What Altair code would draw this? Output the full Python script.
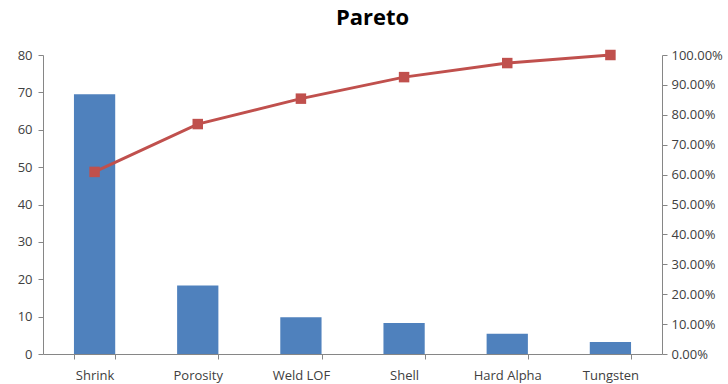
import altair as alt
import pandas as pd

categories = ["Shrink", "Porosity", "Weld LOF", "Shell", "Hard Alpha", "Tungsten"]
counts = [69.5, 18.3, 9.8, 8.3, 5.4, 3.2]
cumulative = [0.609, 0.769, 0.854, 0.926, 0.973, 1.0]

df = pd.DataFrame({"cat": categories, "count": counts, "cum": cumulative})

FONT = "Open Sans"
AX = "#868686"
LBL = "#404040"
FS = 13

x = alt.X("cat:N", sort=categories, title=None,
          scale=alt.Scale(paddingInner=0.6, paddingOuter=0.3),
          axis=alt.Axis(labelAngle=0, tickBand="extent", domainColor=AX, tickColor=AX,
                        labelColor=LBL, labelFont=FONT, labelFontSize=FS, tickSize=5,
                        labelPadding=10, domainWidth=1, grid=False))

bars = alt.Chart(df).mark_bar(color="#4F81BD").encode(
    x=x,
    y=alt.Y("count:Q", title=None,
            scale=alt.Scale(domain=[0, 80]),
            axis=alt.Axis(values=list(range(0, 81, 10)), grid=False, domainColor=AX,
                          tickColor=AX, labelColor=LBL, labelFont=FONT, labelFontSize=FS,
                          tickSize=5, labelPadding=6)),
)

line = alt.Chart(df).mark_line(color="#C0504D", strokeWidth=3,
                               point=alt.OverlayMarkDef(shape="square", size=110,
                                                        filled=True, color="#C0504D", opacity=1)).encode(
    x=x,
    y=alt.Y("cum:Q", title=None,
            scale=alt.Scale(domain=[0, 1]),
            axis=alt.Axis(orient="right", format=".2%", values=[i / 10 for i in range(11)],
                          grid=False, domainColor=AX, tickColor=AX, labelColor=LBL,
                          labelFont=FONT, labelFontSize=FS, tickSize=5, labelPadding=4)),
)

chart = alt.layer(bars, line).resolve_scale(y="independent").properties(
    width=619, height=299,
    background="white",
    title=alt.TitleParams("Pareto", font=FONT, fontSize=22, fontWeight="bold",
                          color="#000000", offset=19, anchor="middle", dx=20),
    autosize=alt.AutoSizeParams(type="none"),
    padding={"left": 43, "top": 55, "right": 66, "bottom": 30},
).configure_view(strokeWidth=0, strokeOpacity=0)

chart.save("out.html", embed_options={"renderer": "svg", "actions": False})
